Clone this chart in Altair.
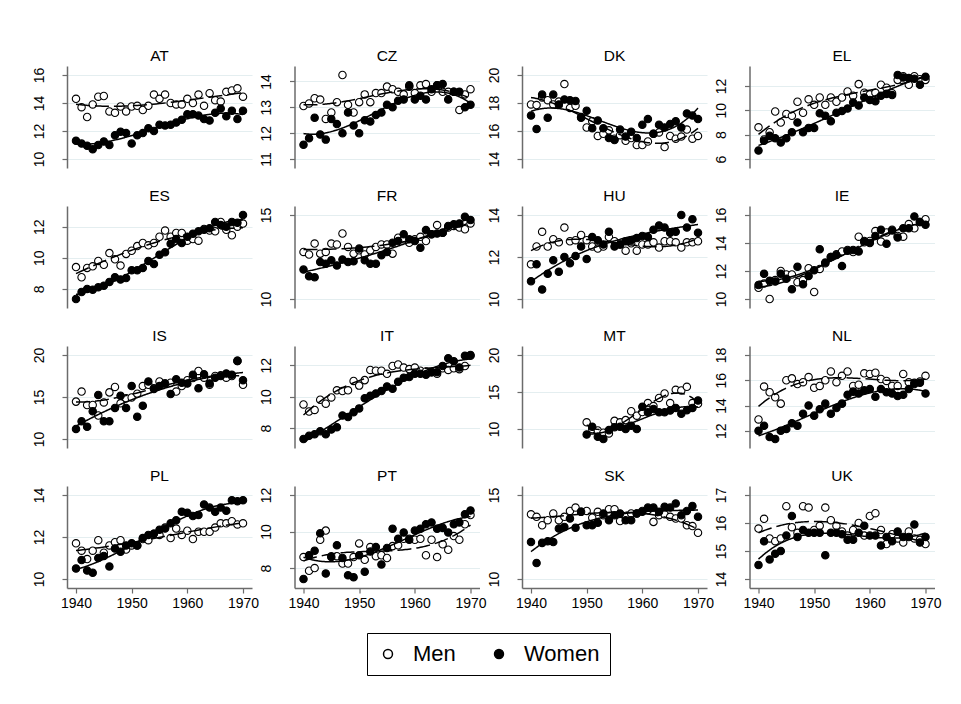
import altair as alt
import pandas as pd

YEARS = list(range(1940, 1971))
MT_YEARS = list(range(1950, 1971))
COUNTRIES = ["AT", "CZ", "DK", "EL", "ES", "FR", "HU", "IE",
             "IS", "IT", "MT", "NL", "PL", "PT", "SK", "UK"]
X_TICKS = [1940, 1950, 1960, 1970]

AT_MEN = [14.3, 13.7, 13.0, 13.9, 14.45, 14.5, 13.4, 13.3, 13.75, 13.4, 13.75, 13.8, 13.5, 13.8, 14.6, 14.3, 14.6, 14.0, 13.9, 13.9, 14.3, 14.0, 14.6, 13.8, 14.7, 14.2, 14.1, 14.8, 14.9, 15.05, 14.45]
AT_WOMEN = [11.3, 11.1, 10.95, 10.7, 11.0, 11.25, 11.0, 11.7, 11.95, 11.85, 11.1, 11.7, 11.85, 12.2, 12.0, 12.45, 12.4, 12.45, 12.6, 12.8, 13.2, 13.2, 13.1, 12.85, 12.75, 13.3, 13.6, 13.05, 13.45, 12.85, 13.45]
CZ_MEN = [13.05, 13.15, 13.35, 13.3, 12.55, 12.8, 13.2, 14.25, 13.1, 12.8, 13.2, 13.5, 13.2, 13.55, 13.55, 13.8, 13.7, 13.6, 13.5, 13.8, 13.55, 13.85, 13.9, 13.6, 13.85, 13.6, 13.6, 13.6, 12.9, 13.5, 13.7]
CZ_WOMEN = [11.55, 11.8, 12.6, 11.95, 11.75, 12.55, 12.35, 12.0, 12.8, 12.3, 12.0, 12.5, 12.45, 12.7, 12.8, 13.1, 13.0, 13.25, 13.3, 13.85, 13.3, 13.45, 13.3, 13.7, 13.85, 13.9, 13.3, 13.6, 13.6, 13.0, 13.1]
DK_MEN = [17.9, 17.85, 18.4, 18.2, 17.9, 18.1, 19.35, 17.65, 17.8, 17.0, 16.25, 16.7, 15.65, 15.8, 16.05, 15.45, 15.7, 15.3, 15.5, 15.0, 15.0, 15.25, 15.8, 15.9, 14.85, 15.65, 15.45, 15.6, 16.1, 15.45, 15.65]
DK_WOMEN = [17.1, 16.15, 18.6, 16.95, 18.6, 17.9, 18.25, 18.2, 18.15, 16.95, 17.45, 16.2, 16.75, 16.2, 15.5, 15.35, 16.1, 15.6, 15.95, 15.5, 16.45, 16.85, 15.8, 16.45, 16.25, 16.5, 16.7, 16.25, 17.25, 17.1, 16.85]
EL_MEN = [8.6, 7.6, 8.2, 9.9, 9.0, 9.7, 9.55, 10.7, 9.8, 10.9, 10.45, 11.05, 10.45, 11.05, 10.7, 11.05, 11.55, 11.2, 12.15, 11.45, 11.3, 11.45, 12.1, 11.85, 11.4, 12.5, 12.8, 12.1, 12.8, 12.55, 12.5]
EL_WOMEN = [6.7, 7.5, 7.9, 7.7, 7.35, 7.7, 8.2, 9.0, 8.2, 8.55, 8.55, 9.75, 9.55, 9.1, 9.8, 9.95, 10.15, 10.65, 10.4, 11.05, 10.85, 10.75, 11.2, 11.35, 11.25, 12.9, 12.7, 12.65, 12.6, 12.1, 12.75]
ES_MEN = [9.4, 8.75, 9.35, 9.45, 9.8, 9.55, 10.3, 9.9, 9.5, 10.25, 10.45, 10.75, 10.95, 10.8, 10.95, 11.35, 11.75, 11.35, 11.6, 11.6, 11.1, 11.2, 11.1, 11.85, 11.75, 11.7, 12.3, 11.8, 11.45, 12.0, 12.2]
ES_WOMEN = [7.35, 7.8, 8.0, 7.95, 8.1, 8.2, 8.45, 8.75, 8.6, 8.7, 9.2, 9.2, 9.35, 9.8, 9.6, 10.2, 10.35, 10.9, 11.2, 10.95, 11.35, 11.55, 11.7, 11.8, 11.9, 12.3, 12.1, 12.0, 12.3, 12.25, 12.75]
FR_MEN = [12.8, 12.65, 13.3, 12.7, 12.8, 13.3, 13.25, 13.9, 13.1, 12.7, 12.9, 12.65, 12.9, 13.1, 13.25, 13.25, 12.7, 13.65, 13.55, 13.35, 13.55, 13.7, 13.45, 13.85, 14.4, 13.95, 14.25, 14.35, 14.25, 14.15, 14.5]
FR_WOMEN = [11.75, 11.35, 11.3, 12.2, 12.1, 12.3, 12.0, 12.35, 12.2, 12.25, 13.0, 12.3, 12.1, 12.1, 12.6, 12.8, 13.35, 13.45, 13.85, 13.55, 13.45, 13.05, 14.1, 13.85, 13.9, 13.95, 14.35, 14.45, 14.5, 14.9, 14.7]
HU_MEN = [11.65, 12.5, 13.2, 12.5, 12.85, 12.7, 13.4, 12.75, 12.8, 13.05, 12.8, 12.5, 12.4, 12.5, 12.95, 12.75, 12.6, 12.3, 12.65, 12.3, 12.6, 12.6, 12.7, 12.45, 12.75, 12.75, 12.7, 12.45, 12.7, 12.7, 12.75]
HU_WOMEN = [10.85, 11.65, 10.45, 11.2, 11.85, 11.3, 12.0, 11.7, 12.05, 12.5, 11.9, 12.95, 12.8, 12.6, 13.2, 12.5, 12.6, 12.75, 12.8, 12.9, 13.0, 12.95, 13.3, 13.5, 13.4, 13.15, 13.2, 14.0, 13.4, 13.8, 13.15]
IE_MEN = [10.8, 11.1, 10.0, 11.35, 12.0, 11.75, 11.75, 11.2, 11.35, 12.2, 10.5, 12.15, 12.55, 13.0, 13.2, 13.4, 13.5, 13.35, 14.45, 14.05, 14.15, 14.85, 14.1, 14.75, 14.95, 14.5, 14.45, 15.35, 15.05, 15.5, 15.7]
IE_WOMEN = [11.0, 11.8, 11.3, 11.25, 11.8, 11.45, 10.7, 12.3, 11.05, 11.65, 12.05, 13.55, 12.6, 13.0, 13.15, 12.35, 13.45, 13.5, 13.4, 14.15, 14.0, 14.5, 14.95, 13.95, 14.9, 14.4, 15.05, 15.05, 15.9, 15.5, 15.3]
IS_MEN = [14.45, 15.65, 14.05, 14.05, 12.8, 14.35, 15.55, 16.2, 14.25, 14.85, 14.95, 15.4, 16.3, 16.45, 16.05, 16.85, 16.6, 16.7, 15.65, 16.3, 17.0, 17.25, 18.1, 17.3, 16.45, 17.5, 17.6, 17.3, 17.5, 19.3, 16.45]
IS_WOMEN = [11.2, 12.1, 11.45, 13.3, 15.25, 12.1, 12.1, 13.7, 15.15, 13.7, 16.3, 12.65, 13.95, 16.85, 15.95, 16.3, 16.6, 15.35, 17.1, 16.7, 16.6, 17.65, 16.05, 17.7, 16.6, 17.3, 17.5, 17.8, 17.65, 19.3, 17.0]
IT_MEN = [9.5, 9.05, 9.15, 9.8, 9.55, 9.95, 10.4, 10.35, 10.4, 11.0, 10.7, 11.05, 11.7, 11.65, 11.65, 11.45, 11.95, 12.05, 11.85, 11.75, 11.85, 11.65, 11.6, 11.55, 11.45, 11.8, 11.7, 11.8, 11.75, 11.95, 12.6]
IT_WOMEN = [7.3, 7.5, 7.6, 7.8, 7.6, 7.9, 8.05, 8.8, 8.7, 9.0, 9.25, 9.9, 10.05, 10.2, 10.35, 10.65, 10.5, 10.95, 11.2, 11.25, 11.45, 11.45, 11.4, 11.55, 11.55, 11.95, 12.45, 12.25, 11.85, 12.6, 12.65]
MT_MEN = [10.9, 10.0, 9.8, 9.5, 9.4, 11.1, 10.9, 11.2, 12.4, 11.8, 12.3, 13.5, 13.1, 14.2, 14.8, 13.5, 15.3, 15.2, 15.7, 13.5, 13.4]
MT_WOMEN = [9.25, 10.3, 8.95, 8.65, 9.85, 10.25, 10.3, 10.0, 10.45, 10.0, 13.0, 12.25, 12.7, 12.25, 12.25, 12.5, 12.85, 12.05, 12.55, 12.85, 13.85]
NL_MEN = [12.9, 15.5, 15.05, 14.65, 14.15, 16.0, 16.15, 15.7, 15.85, 16.25, 15.4, 15.55, 16.0, 16.7, 15.85, 16.35, 16.7, 15.55, 15.65, 16.55, 16.5, 16.6, 16.1, 15.95, 15.55, 15.55, 16.5, 15.85, 15.8, 15.9, 16.35]
NL_WOMEN = [12.0, 12.4, 11.5, 11.35, 12.0, 12.15, 12.6, 12.4, 13.35, 14.0, 13.2, 13.7, 14.15, 13.35, 13.8, 14.15, 14.85, 15.1, 14.95, 15.2, 15.3, 14.7, 15.3, 15.05, 14.95, 14.75, 14.85, 15.3, 15.7, 15.8, 14.95]
PL_MEN = [11.7, 11.35, 10.95, 11.35, 11.85, 11.25, 11.6, 11.75, 11.85, 11.4, 11.6, 11.6, 11.9, 11.85, 12.15, 12.1, 12.45, 11.95, 12.4, 12.1, 12.3, 11.9, 12.25, 12.25, 12.25, 12.45, 12.65, 12.65, 12.75, 12.6, 12.65]
PL_WOMEN = [10.5, 10.9, 10.4, 10.3, 11.0, 11.1, 10.6, 11.45, 11.3, 11.6, 11.7, 11.6, 11.95, 12.1, 12.15, 12.35, 12.4, 12.65, 12.8, 13.2, 13.15, 13.0, 13.05, 13.55, 13.4, 13.2, 13.4, 13.25, 13.75, 13.7, 13.75]
PT_MEN = [8.6, 7.85, 8.0, 9.55, 10.05, 8.65, 8.65, 8.25, 8.25, 8.6, 9.35, 8.45, 9.15, 8.65, 8.7, 8.55, 9.2, 9.25, 9.6, 9.6, 9.55, 9.6, 8.7, 9.55, 8.6, 9.3, 9.0, 9.75, 9.55, 10.4, 10.9]
PT_WOMEN = [7.4, 8.7, 8.95, 9.9, 7.7, 8.6, 9.25, 8.55, 7.6, 7.5, 8.7, 7.8, 8.9, 9.15, 8.2, 9.1, 10.15, 9.6, 9.95, 9.55, 10.05, 10.15, 10.4, 10.5, 10.15, 10.2, 9.95, 10.4, 10.5, 10.95, 11.15]
SK_MEN = [13.85, 13.7, 13.2, 13.5, 13.9, 13.5, 13.7, 14.05, 14.25, 14.0, 14.05, 13.65, 14.0, 13.8, 14.15, 14.15, 13.45, 13.75, 13.9, 13.9, 14.05, 14.1, 13.4, 13.8, 13.85, 13.7, 13.6, 13.6, 13.2, 13.15, 12.75]
SK_WOMEN = [12.2, 10.95, 12.15, 12.25, 12.2, 13.0, 13.1, 13.6, 13.05, 14.0, 13.2, 13.2, 13.35, 13.9, 13.5, 13.8, 13.9, 13.5, 13.5, 13.9, 14.0, 14.25, 14.25, 14.0, 14.3, 14.25, 14.5, 13.8, 14.05, 14.35, 13.7]
UK_MEN = [15.8, 16.15, 15.45, 15.35, 15.45, 16.6, 15.85, 15.65, 16.6, 16.55, 15.75, 15.9, 16.55, 16.1, 15.9, 15.7, 15.55, 15.75, 16.0, 15.55, 16.25, 16.35, 15.75, 15.25, 15.6, 15.45, 15.3, 15.7, 15.45, 15.4, 15.25]
UK_WOMEN = [14.5, 15.35, 14.7, 14.9, 15.0, 15.55, 16.25, 15.5, 15.75, 15.65, 15.65, 15.65, 14.85, 15.65, 15.65, 15.6, 15.4, 15.4, 15.65, 15.9, 15.55, 15.55, 15.2, 15.5, 15.35, 15.7, 15.5, 15.5, 15.95, 15.3, 15.5]

Y_TICKS = {
    "AT": [10, 12, 14, 16], "CZ": [11, 12, 13, 14], "DK": [14, 16, 18, 20], "EL": [6, 8, 10, 12],
    "ES": [8, 10, 12], "FR": [10, 15], "HU": [10, 12, 14], "IE": [10, 12, 14, 16],
    "IS": [10, 15, 20], "IT": [8, 10, 12], "MT": [10, 15, 20], "NL": [12, 14, 16, 18],
    "PL": [10, 12, 14], "PT": [8, 10, 12], "SK": [10, 15], "UK": [14, 15, 16, 17],
}

SERIES = {
    "AT": (AT_MEN, AT_WOMEN), "CZ": (CZ_MEN, CZ_WOMEN), "DK": (DK_MEN, DK_WOMEN), "EL": (EL_MEN, EL_WOMEN),
    "ES": (ES_MEN, ES_WOMEN), "FR": (FR_MEN, FR_WOMEN), "HU": (HU_MEN, HU_WOMEN), "IE": (IE_MEN, IE_WOMEN),
    "IS": (IS_MEN, IS_WOMEN), "IT": (IT_MEN, IT_WOMEN), "MT": (MT_MEN, MT_WOMEN), "NL": (NL_MEN, NL_WOMEN),
    "PL": (PL_MEN, PL_WOMEN), "PT": (PT_MEN, PT_WOMEN), "SK": (SK_MEN, SK_WOMEN), "UK": (UK_MEN, UK_WOMEN),
}

rows = []
for c in COUNTRIES:
    men, women = SERIES[c]
    yrs = MT_YEARS if c == "MT" else YEARS
    for sex, vals in (("Men", men), ("Women", women)):
        for yr, v in zip(yrs, vals):
            rows.append({"country": c, "sex": sex, "year": yr, "value": v})
data = pd.DataFrame(rows)

PW, PH = 185, 102
PAD = 9
X_DOMAIN = [1940 - PAD * 30 / 167, 1970 + PAD * 30 / 167]

fill_scale = alt.Scale(domain=["Men", "Women"], range=["white", "black"])
dash_scale = alt.Scale(domain=["Men fit", "Women fit"], range=[[14, 5], [1, 0]])


def panel(idx, c):
    df = data[data["country"] == c]
    ticks = Y_TICKS[c]
    lo = min(min(ticks), df["value"].min())
    hi = max(max(ticks), df["value"].max())
    pad = (hi - lo) * PAD / (PH - 2 * PAD)
    bottom = idx >= 12
    if bottom:
        xaxis = alt.Axis(values=X_TICKS, title=None, grid=False, tickSize=5, labelPadding=3,
                         labelFlush=False, labelOverlap=False, format="d")
    else:
        xaxis = None
    x = alt.X("year:Q", scale=alt.Scale(domain=X_DOMAIN, nice=False, zero=False), axis=xaxis)
    y = alt.Y("value:Q", scale=alt.Scale(domain=[lo - pad, hi + pad], nice=False, zero=False),
              axis=alt.Axis(values=ticks, title=None, labelAngle=270, labelAlign="center",
                            labelBaseline="alphabetic", labelPadding=19, tickSize=5, grid=True,
                            format="d", labelOverlap=False, labelFlush=False))
    base = alt.Chart(df)
    pts = base.mark_point(shape="circle", size=55, stroke="black", strokeWidth=1.1,
                          opacity=1, filled=True).encode(
        x=x, y=y,
        fill=alt.Fill("sex:N", scale=fill_scale,
                      legend=alt.Legend(title=None, orient="none", legendX=300, legendY=567,
                                        direction="horizontal", strokeColor="black", padding=10,
                                        labelFontSize=22, labelFont="Liberation Sans",
                                        symbolSize=80, symbolStrokeColor="black",
                                        symbolStrokeWidth=1.5, columnPadding=32, labelOffset=14,
                                        fillColor="white", symbolType="circle")),
    )
    fit = base.transform_regression("year", "value", method="poly", order=3,
                                    groupby=["sex"]).transform_calculate(
        fitgroup="datum.sex + ' fit'"
    ).mark_line(color="black", strokeWidth=1.5).encode(
        x=x, y=y,
        strokeDash=alt.StrokeDash("fitgroup:N", scale=dash_scale, legend=None),
    )
    return alt.layer(pts, fit).properties(
        width=PW, height=PH,
        title=alt.TitleParams(c, fontSize=15.5, fontWeight="normal", offset=-10,
                              baseline="alphabetic", font="Liberation Sans", color="black"),
    )


panels = [panel(i, c) for i, c in enumerate(COUNTRIES)]

chart = alt.concat(*panels, columns=4, spacing={"row": 38, "column": 42.5}, bounds="flush").properties(
    padding={"left": 24, "top": 40, "right": 5, "bottom": 5},
    background="white",
).configure_view(stroke=None).configure_axis(
    domainColor="#6b6b6b", domainWidth=1.5, tickColor="#6b6b6b", tickWidth=1.2,
    labelColor="black", labelFontSize=14, labelFont="Liberation Sans",
    gridColor="#e4eef0", gridWidth=1.2,
)

chart.save("out.html", embed_options={"renderer": "svg", "actions": False})
